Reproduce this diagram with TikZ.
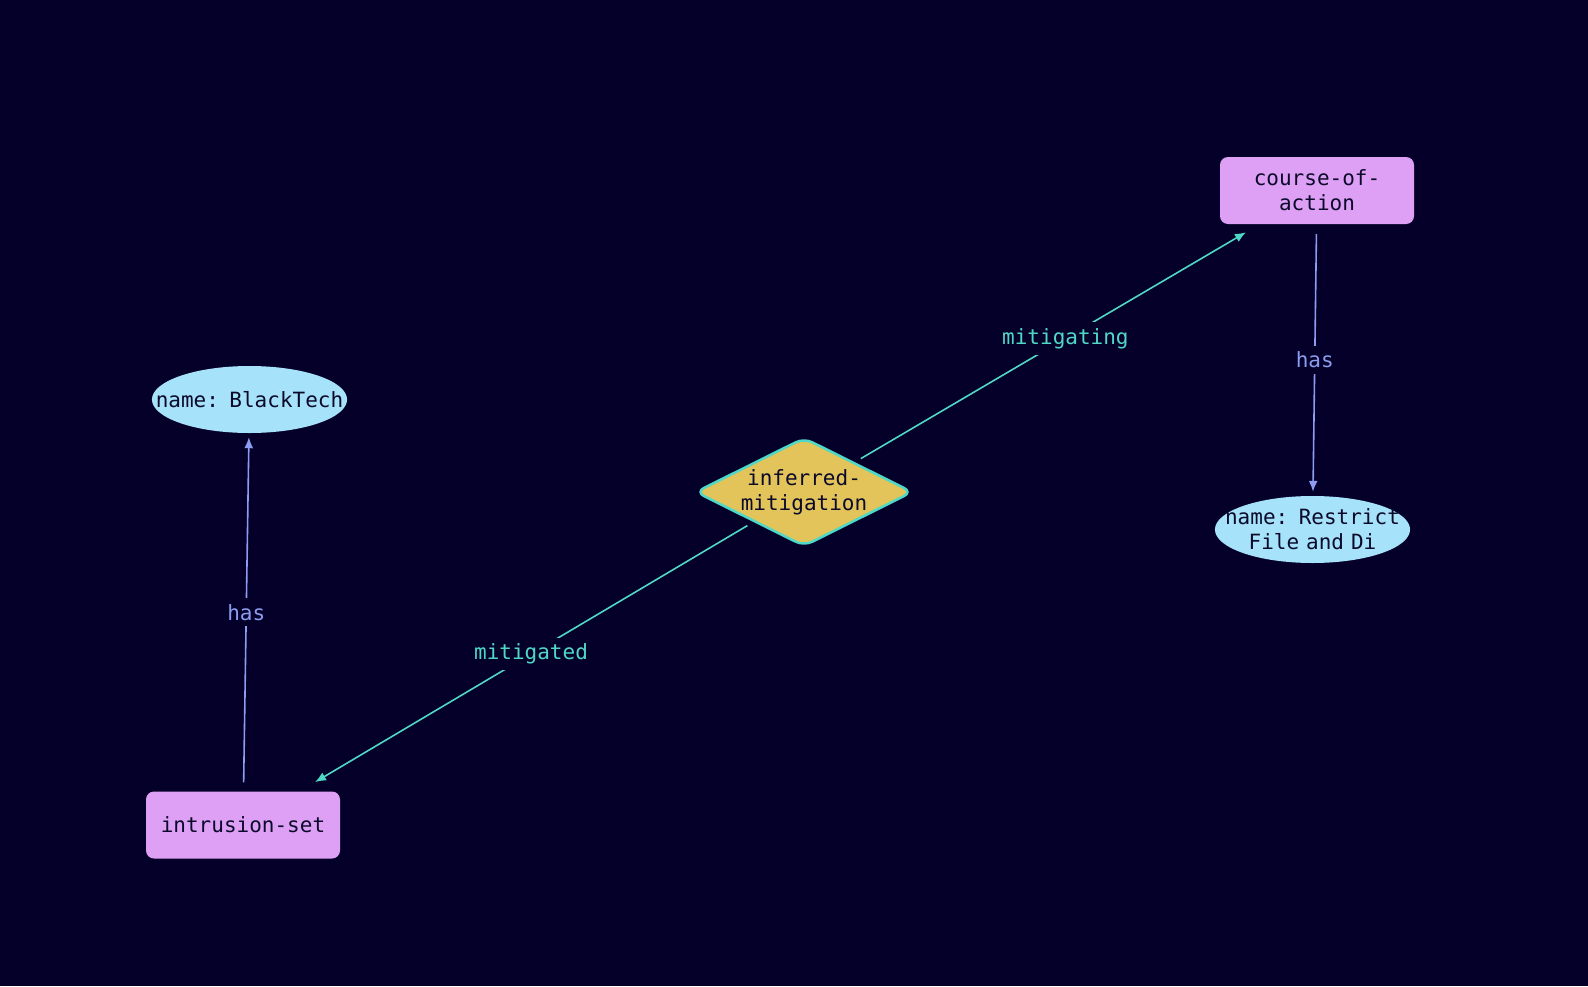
\documentclass[tikz,border=0pt]{standalone}
\usepackage{fontspec}
\setmonofont{DejaVu Sans Mono}
\usepackage{xcolor}
\usepackage{tikz}
\usetikzlibrary{shapes.geometric,arrows.meta}

\definecolor{bgnavy}{HTML}{05002A}
\definecolor{entpink}{HTML}{DDA0F5}
\definecolor{attrblue}{HTML}{A6E3FA}
\definecolor{relyellow}{HTML}{E3C45A}
\definecolor{reledge}{HTML}{4FD8C6}
\definecolor{hasedge}{HTML}{8C9CF0}
\definecolor{inkdark}{HTML}{0B0A2A}

\begin{document}
\begin{tikzpicture}[x=1pt,y=-1pt,
    txt/.style={font=\ttfamily\fontsize{21}{25}\selectfont, align=center},
    entity/.style={txt, fill=entpink, text=inkdark, rounded corners=8pt,
        minimum width=194pt, minimum height=67pt, inner sep=0pt},
    attr/.style={txt, ellipse, fill=attrblue, text=inkdark,
        text width=204pt, inner xsep=-33pt, inner ysep=0pt,
        minimum width=195pt, minimum height=67pt},
    relation/.style={txt, diamond, aspect=2, fill=relyellow, draw=reledge,
        line width=2.5pt, rounded corners=9pt, text=inkdark,
        minimum width=216pt, minimum height=108pt, inner sep=0pt},
    hasline/.style={draw=hasedge, line width=1.6pt,
        -{Latex[length=11pt,width=9pt]}},
    relline/.style={draw=reledge, line width=1.6pt,
        -{Latex[length=11pt,width=9pt]}},
    haslabel/.style={txt, text=hasedge, fill=bgnavy, inner sep=6pt},
    rellabel/.style={txt, text=reledge, fill=bgnavy, inner sep=6pt}]

    \useasboundingbox (0,0) rectangle (1588,986);
    \fill[bgnavy] (0,0) rectangle (1588,986);

    \node[entity] (iset) at (243,825) {intrusion-set};
    \node[entity] (coa) at (1317,190.5) {course-of-\\action};
    \node[attr] (bt) at (249.5,399.5) {name: BlackTech};
    \node[attr] (rf) at (1312.5,529.5) {name: Restrict\\File and Di};
    \node[relation] (inf) at (804,492) {inferred-\\mitigation};

    \draw[hasline, shorten <=9pt, shorten >=4pt] (iset) -- node[haslabel] {has} (bt);
    \draw[hasline, shorten <=10pt, shorten >=4pt] (coa) -- node[haslabel] {has} (rf);
    \draw[relline, shorten <=7pt, shorten >=16pt] (inf) -- node[rellabel, pos=0.52] {mitigating} (coa);
    \draw[relline, shorten <=7pt, shorten >=18pt] (inf) -- node[rellabel, pos=0.49] {mitigated} (iset);
\end{tikzpicture}
\end{document}
